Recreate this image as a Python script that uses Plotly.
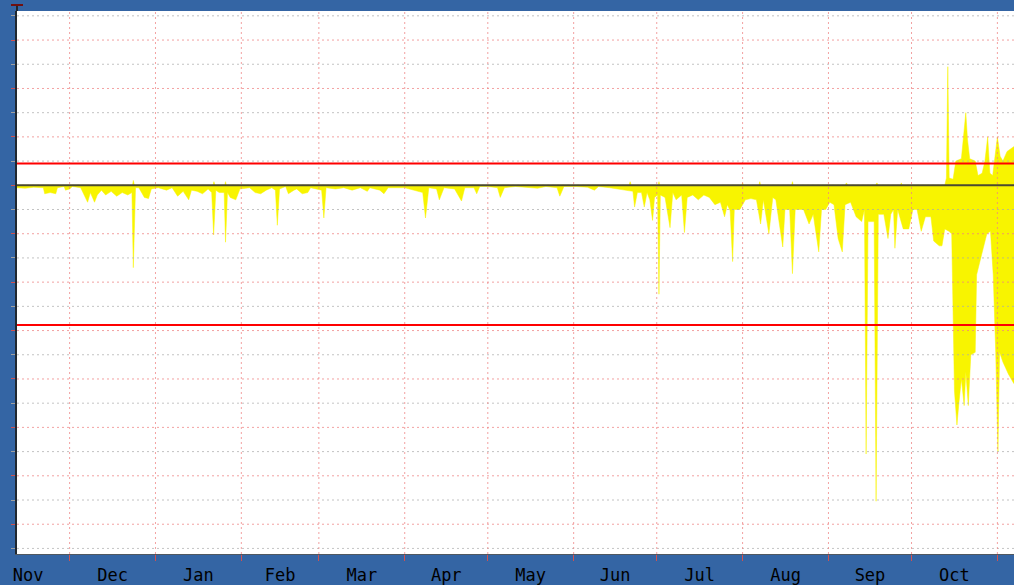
import datetime as dt
import plotly.graph_objects as go

# ---------------- data ----------------
START = dt.datetime(2010, 11, 12)

# negative excursions (day offset from START, value in grid units)
lo_days = [0, 3, 6, 9.5, 10, 12, 14, 14.6, 17, 17.5, 19, 20, 23, 24.5, 25.5, 26.5, 28, 29, 30.5, 32,
           34, 36, 38, 40, 41.5, 42, 42.8, 44, 46, 47.5, 48.5, 51, 54, 56, 58, 60, 62, 63, 65, 67,
           69, 70.3, 71, 71.8, 73, 74.8, 75.3, 76, 77, 79, 80.5, 84, 86, 88, 90, 92, 93.3, 94, 94.8, 97,
           98, 100, 101, 103, 105, 106, 110, 110.8, 111.6, 115, 118, 121, 124, 126.5, 127.4, 131, 132.5, 134, 140, 146.5,
           147.5, 148.7, 151.5, 152.5, 154.2, 158, 160.5, 161.7, 165, 166, 167.1, 170, 173.5, 174.5, 176, 180, 184, 188, 191, 195,
           196, 197.5, 202, 206, 208.5, 210, 214, 217, 220, 222.4, 223, 224, 225.5, 226.5, 227.5, 228.5, 229.5, 230.2, 231.3, 231.8,
           232.3, 234, 235.8, 236.8, 238, 240, 241, 242, 244, 246, 248, 250, 252, 254, 255.5, 256.5, 257.5, 258.4, 259, 261,
           263, 265, 267, 268.5, 269.5, 271.5, 272.9, 274, 276.5, 277.3, 279, 280, 281, 284, 286, 287.5, 289.5, 290.5, 292, 293.5,
           295, 296.5, 298, 299, 301, 303, 305, 306, 306.6, 307.3, 309.5, 310.2, 311, 313, 314.5, 315.5, 316.5, 317, 318, 320,
           322, 323.5, 325, 326.5, 328, 330, 331, 333, 334, 335, 336.5, 337.5, 338.5, 339.4, 340.1, 341, 342, 342.6, 343.5, 344.4,
           346, 346.5, 348, 349, 350.2, 351.5, 352.5, 353.4, 354.2, 354.8, 356, 358, 360]
lo_vals = [-0.1, -0.12, -0.08, -0.1, -0.35, -0.3, -0.35, -0.1, -0.05, -0.2, -0.15, -0.05, -0.1, -0.5, -0.7, -0.3, -0.7, -0.4, -0.2, -0.4,
           -0.25, -0.45, -0.3, -0.4, -0.3, -3.4, -0.1, -0.1, -0.5, -0.55, -0.15, -0.1, -0.2, -0.1, -0.45, -0.25, -0.6, -0.2, -0.25, -0.35,
           -0.15, -0.3, -2.05, -0.2, -0.3, -0.3, -2.35, -0.3, -0.5, -0.6, -0.15, -0.1, -0.3, -0.35, -0.2, -0.1, -0.2, -1.65, -0.15, -0.05,
           -0.35, -0.2, -0.15, -0.35, -0.3, -0.1, -0.2, -1.35, -0.1, -0.15, -0.1, -0.2, -0.1, -0.25, -0.1, -0.2, -0.35, -0.1, -0.1, -0.3,
           -1.35, -0.1, -0.15, -0.6, -0.1, -0.15, -0.65, -0.1, -0.1, -0.35, -0.05, -0.05, -0.1, -0.5, -0.1, -0.05, -0.1, -0.12, -0.05, -0.1,
           -0.45, -0.05, -0.05, -0.08, -0.2, -0.05, -0.1, -0.15, -0.2, -0.25, -0.9, -0.3, -0.3, -0.9, -0.3, -0.6, -1.45, -0.5, -0.4, -4.5,
           -0.4, -0.5, -1.75, -0.3, -0.6, -0.4, -1.95, -0.5, -0.4, -0.6, -0.4, -0.5, -0.8, -0.7, -1.3, -0.8, -1.05, -3.15, -1.0, -1.0,
           -0.6, -0.55, -0.6, -1.6, -0.6, -2.0, -0.5, -0.6, -2.55, -1.0, -1.0, -3.65, -1.0, -1.0, -1.6, -1.2, -2.75, -1.0, -1.0, -0.7,
           -0.8, -2.2, -2.75, -0.8, -0.7, -1.3, -1.5, -1.0, -11.1, -1.5, -1.5, -13.05, -1.2, -1.2, -2.2, -1.2, -1.0, -2.6, -1.0, -1.8,
           -1.8, -1.0, -1.0, -1.9, -1.3, -1.3, -2.3, -2.5, -2.5, -1.8, -1.9, -2.0, -8.5, -9.9, -9.0, -8.0, -9.1, -7.7, -9.1, -7.0,
           -6.9, -3.7, -3.0, -2.5, -2.0, -1.9, -3.7, -6.9, -11.0, -6.9, -7.3, -7.8, -8.2]

# positive excursions
hi_days = [0, 41.7, 42, 42.4, 70.8, 71.1, 71.5, 75, 75.3, 75.6, 221, 221.4, 221.8, 231.5, 231.8, 232.1,
           261.7, 262, 262.3, 267.9, 268.2, 268.5, 279.7, 280, 280.3, 299, 299.5, 300, 310, 310.5, 311,
           319, 319.3, 319.6, 335, 335.6, 336.1, 336.6, 338, 339, 341, 341.8, 342.6, 343.2, 344, 346,
           347, 348.5, 349.5, 350.5, 351.3, 352.3, 353, 354, 355, 356, 357.5, 360]
hi_vals = [0, 0, 0.2, 0, 0, 0.15, 0, 0, 0.15, 0, 0, 0.15, 0, 0, 0.15, 0,
           0, 0.1, 0, 0, 0.15, 0, 0, 0.15, 0, 0, 0.1, 0, 0, 0.1, 0,
           0, 0.1, 0, 0, 0.3, 4.9, 0.3, 0.25, 1.0, 1.1, 2.0, 3.0, 1.9, 1.1, 1.0,
           0.4, 0.5, 1.0, 2.0, 0.5, 0.4, 1.0, 2.0, 1.2, 1.0, 1.4, 1.6]

upper_limit = 0.9
lower_limit = -5.77
month_ticks = ["2010-12-01", "2011-01-01", "2011-02-01", "2011-03-01", "2011-04-01", "2011-05-01",
               "2011-06-01", "2011-07-01", "2011-08-01", "2011-09-01", "2011-10-01", "2011-11-01"]
y_major = [-14, -12, -10, -8, -6, -4, -2, 0, 2, 4, 6]
y_minor = [-15, -13, -11, -9, -7, -5, -3, -1, 1, 3, 5, 7]

# ---------------- figure ----------------
def to_dates(days):
    return [START + dt.timedelta(days=d) for d in days]

X0 = START
X1 = START + dt.timedelta(days=360)
Y0, Y1 = -15.23, 7.2

YELLOW = "#f8f400"
fig = go.Figure()
fig.add_trace(go.Scatter(x=to_dates(lo_days), y=lo_vals, mode="lines", fill="tozeroy",
                         fillcolor=YELLOW, line=dict(color=YELLOW, width=0.5), hoverinfo="skip"))
fig.add_trace(go.Scatter(x=to_dates(hi_days), y=hi_vals, mode="lines", fill="tozeroy",
                         fillcolor=YELLOW, line=dict(color=YELLOW, width=0.5), hoverinfo="skip"))

shapes = []
PINK = "rgba(238,130,130,0.75)"
GRAY = "rgba(170,170,170,0.7)"
for yv in y_minor:
    shapes.append(dict(type="line", xref="paper", x0=0, x1=1, yref="y", y0=yv, y1=yv,
                       line=dict(color=GRAY, width=1, dash="2px,3px"), layer="above"))
for yv in y_major:
    shapes.append(dict(type="line", xref="paper", x0=0, x1=1, yref="y", y0=yv, y1=yv,
                       line=dict(color=PINK, width=1, dash="2px,3px"), layer="above"))
for m in month_ticks:
    shapes.append(dict(type="line", xref="x", x0=m, x1=m, yref="paper", y0=0, y1=1,
                       line=dict(color=PINK, width=1, dash="2px,3px"), layer="above"))
for lim in (upper_limit, lower_limit):
    shapes.append(dict(type="line", xref="paper", x0=0, x1=1, yref="y", y0=lim, y1=lim,
                       line=dict(color="#ff0000", width=2), layer="above"))
shapes.append(dict(type="line", xref="paper", x0=0, x1=1, yref="y", y0=0, y1=0,
                   line=dict(color="#4a4a30", width=2), layer="above"))
# axis arrow stub at top-left
shapes.append(dict(type="line", xref="paper", x0=0, x1=0, yref="paper", y0=1, y1=1 + 7 / 545,
                   line=dict(color="#202830", width=2), layer="above"))
shapes.append(dict(type="line", xref="paper", x0=-6 / 997, x1=6 / 997, yref="paper",
                   y0=1 + 6 / 545, y1=1 + 6 / 545, line=dict(color="#701010", width=2), layer="above"))

fig.update_layout(
    width=1014, height=585,
    margin=dict(l=17, r=0, t=11, b=29),
    paper_bgcolor="#3465a4",
    plot_bgcolor="#ffffff",
    showlegend=False,
    shapes=shapes,
    font=dict(family="DejaVu Sans Mono", color="#000000", size=17),
)
fig.update_xaxes(
    type="date", range=[X0, X1], showgrid=False, zeroline=False,
    tick0="2010-11-01", dtick="M1", tickformat="%b", ticklabelmode="period",
    ticks="outside", ticklen=6, tickcolor="#d05050", tickwidth=1,
    showline=True, linecolor="#505860", linewidth=1,
    tickfont=dict(family="DejaVu Sans Mono", size=17, color="#000000"),
)
fig.update_yaxes(
    range=[Y0, Y1], showgrid=False, zeroline=False, showticklabels=False,
    tick0=0, dtick=2, ticks="outside", ticklen=4, tickcolor="#d05050",
    minor=dict(dtick=1, tick0=0, ticks="outside", ticklen=4, tickcolor="#a0a0a0", showgrid=False),
    showline=True, linecolor="#202830", linewidth=2,
)

fig.write_html("out.html", config={"displayModeBar": False},
               post_script="document.body.style.margin='0';")
